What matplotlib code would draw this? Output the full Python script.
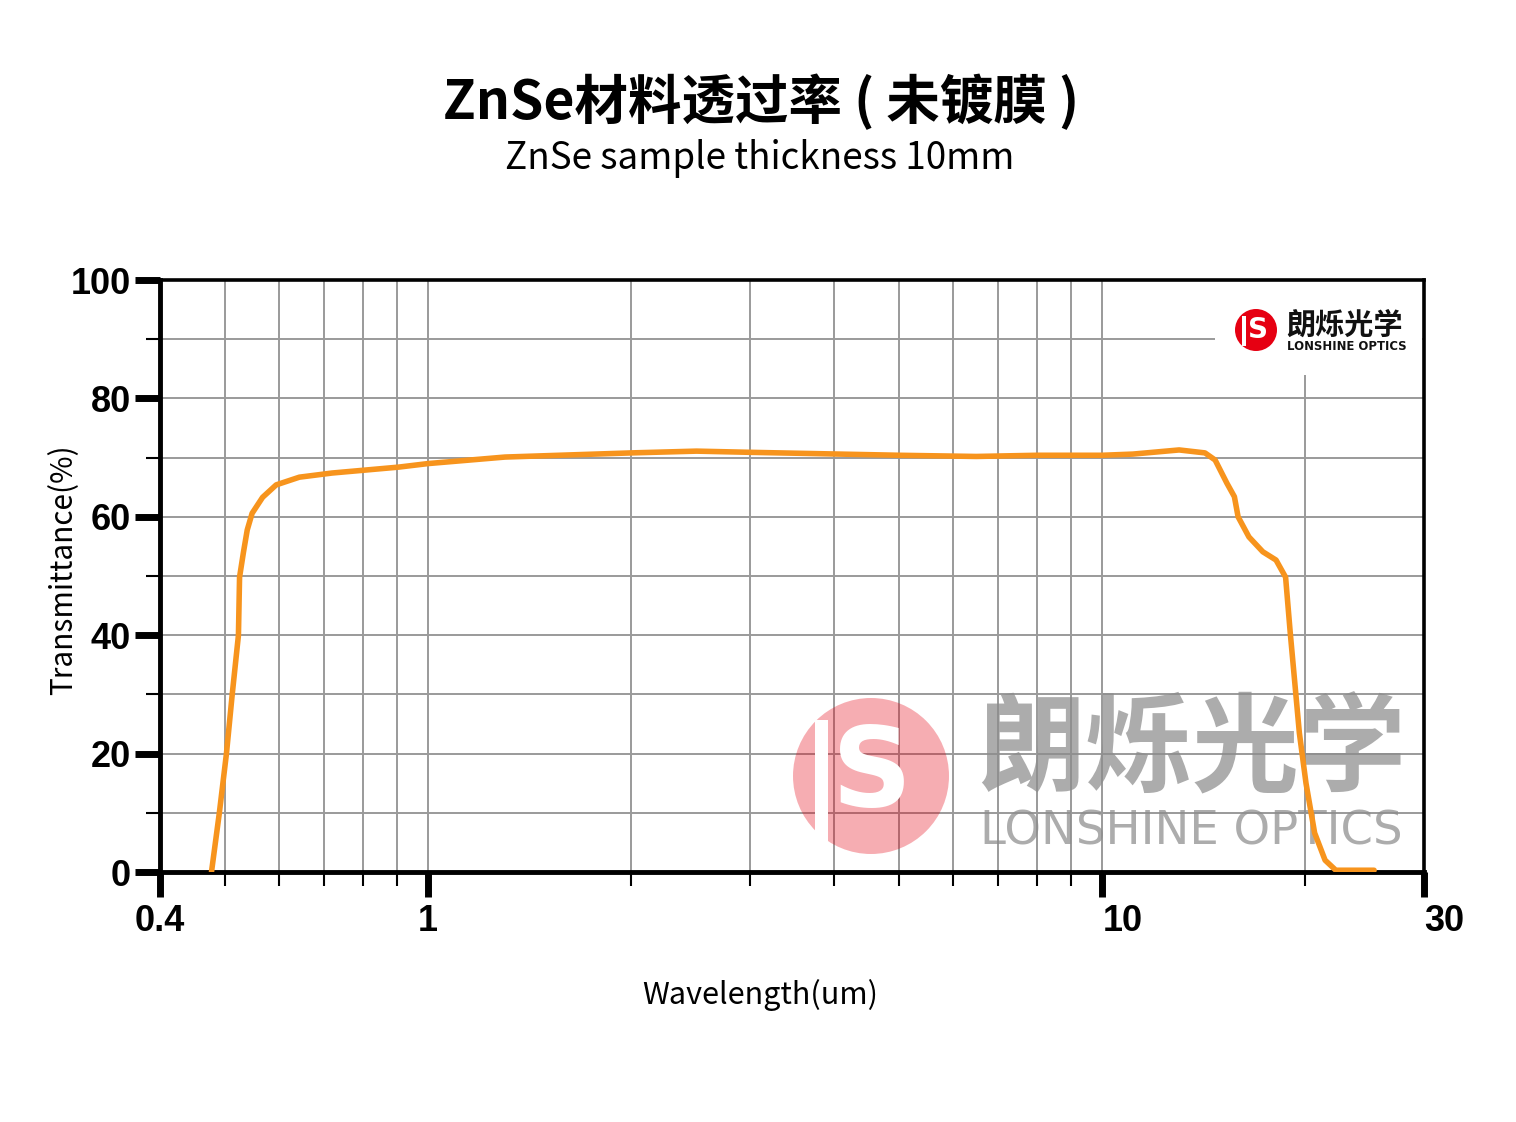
import matplotlib.pyplot as plt
from matplotlib.patches import Circle, Rectangle
from matplotlib.ticker import FixedLocator, NullFormatter

plt.rcParams['font.family'] = ['Noto Sans CJK SC', 'DejaVu Sans']

# curve (um, %)
wavelength = [0.477, 0.490, 0.502, 0.512, 0.523, 0.525, 0.532, 0.539, 0.548, 0.568,
              0.595, 0.644, 0.720, 0.904, 1.0, 1.3, 2.0, 2.5, 3.0, 5.0, 6.5, 8.0, 10.0,
              11.1, 12.15, 13.0, 14.2, 14.7, 15.3, 15.7, 15.9, 16.5, 17.3, 18.1, 18.7,
              19.0, 19.3, 19.6, 20.05, 20.65, 21.4, 22.2, 25.3]
transmittance = [0, 10.0, 20.0, 30.0, 40.0, 49.8, 54.0, 57.8, 60.6, 63.3,
                 65.4, 66.7, 67.4, 68.4, 69.0, 70.1, 70.8, 71.1, 70.9, 70.4, 70.2, 70.4, 70.4,
                 70.6, 71.0, 71.3, 70.8, 69.6, 65.7, 63.4, 60.0, 56.6, 54.1, 52.7, 49.8,
                 40.4, 31.9, 23.5, 15.0, 6.6, 2.0, 0.3, 0.3]

x_major = [0.4, 1, 10, 30]
x_major_labels = ['0.4', '1', '10', '30']
x_minor = [0.5, 0.6, 0.7, 0.8, 0.9, 2, 3, 4, 5, 6, 7, 8, 9, 20]
y_major = [0, 20, 40, 60, 80, 100]
y_minor = [10, 30, 50, 70, 90]

title = 'ZnSe材料透过率 ( 未镀膜 )'
subtitle = 'ZnSe sample thickness 10mm'
brand_cn = '朗烁光学'
brand_en = 'LONSHINE OPTICS'

fig = plt.figure(figsize=(15.16, 11.22), dpi=100)
ax = fig.add_axes([0.1055, 0.2228, 0.8338, 0.5276])
ax.set_xscale('log')
ax.set_xlim(0.4, 30)
ax.set_ylim(0, 100)

ax.xaxis.set_major_locator(FixedLocator(x_major))
ax.xaxis.set_minor_locator(FixedLocator(x_minor))
ax.xaxis.set_minor_formatter(NullFormatter())
ax.set_xticklabels(x_major_labels)
ax.yaxis.set_major_locator(FixedLocator(y_major))
ax.yaxis.set_minor_locator(FixedLocator(y_minor))

ax.tick_params(which='major', length=18, width=5, color='black', pad=3)
ax.tick_params(which='minor', length=10, width=1.5, color='black')
ax.tick_params(axis='x', which='major', pad=5)
for lbl in ax.get_xticklabels() + ax.get_yticklabels():
    lbl.set_family('Liberation Sans')
    lbl.set_fontweight('bold')
    lbl.set_fontsize(26)
xl = ax.get_xticklabels()
xl[2].set_ha('left')
xl[3].set_ha('left')

ax.spines['left'].set_linewidth(3.5)
ax.spines['bottom'].set_linewidth(3.5)
ax.spines['top'].set_linewidth(2.6)
ax.spines['right'].set_linewidth(2.6)

ax.set_axisbelow(True)
ax.grid(which='both', color='#9a9a9a', linewidth=1.4)

# watermark
tr = fig.dpi_scale_trans
ax.add_patch(Circle((8.71, 3.46), 0.78, transform=tr, color='#E60012', alpha=0.32,
                    lw=0, zorder=1))
ax.add_patch(Rectangle((8.15, 2.75), 0.13, 1.27, transform=tr, color='white', lw=0, zorder=1))
ax.text(8.72, 3.47, 'S', transform=tr, color='white', fontsize=80, fontweight='bold',
        family='DejaVu Sans', ha='center', va='center', zorder=1)
ax.text(9.78, 3.70, brand_cn, transform=tr, color='#8c8c8c', alpha=0.72, fontsize=77,
        fontweight='bold', ha='left', va='center', zorder=1)
ax.text(9.80, 2.90, brand_en, transform=tr, color='#8c8c8c', alpha=0.72, fontsize=33.5,
        family='DejaVu Sans', ha='left', va='center', zorder=1)

# logo top right
ax.add_patch(Rectangle((12.15, 7.47), 2.07, 0.95, transform=tr, color='white', lw=0, zorder=2))
ax.add_patch(Circle((12.56, 7.92), 0.21, transform=tr, color='#E60012', lw=0, zorder=2))
ax.add_patch(Rectangle((12.42, 7.76), 0.04, 0.30, transform=tr, color='white', lw=0, zorder=2))
ax.text(12.58, 7.92, 'S', transform=tr, color='white', fontsize=20, fontweight='bold',
        family='DejaVu Sans', ha='center', va='center', zorder=2)
ax.text(12.86, 7.97, brand_cn, transform=tr, color='#111111', fontsize=21,
        fontweight='bold', ha='left', va='center', zorder=2)
ax.text(12.87, 7.75, brand_en, transform=tr, color='#111111', fontsize=8.4,
        fontweight='bold', family='DejaVu Sans', ha='left', va='center', zorder=2)

ax.plot(wavelength, transmittance, color='#F7941D', linewidth=4, zorder=3,
        solid_joinstyle='round', solid_capstyle='round')

ax.set_ylabel('Transmittance(%)', fontsize=21.5)
ax.yaxis.set_label_coords(-0.064, 0.510)
ax.set_xlabel('Wavelength(um)', fontsize=22, fontweight='medium')
ax.xaxis.set_label_coords(0.4747, -0.180)

fig.text(0.502, 0.908, title, ha='center', va='center', fontsize=38.5, fontweight='heavy')
fig.text(0.501, 0.859, subtitle, ha='center', va='center', fontsize=26.5)

fig.savefig('out.png', dpi=100, facecolor='white')
